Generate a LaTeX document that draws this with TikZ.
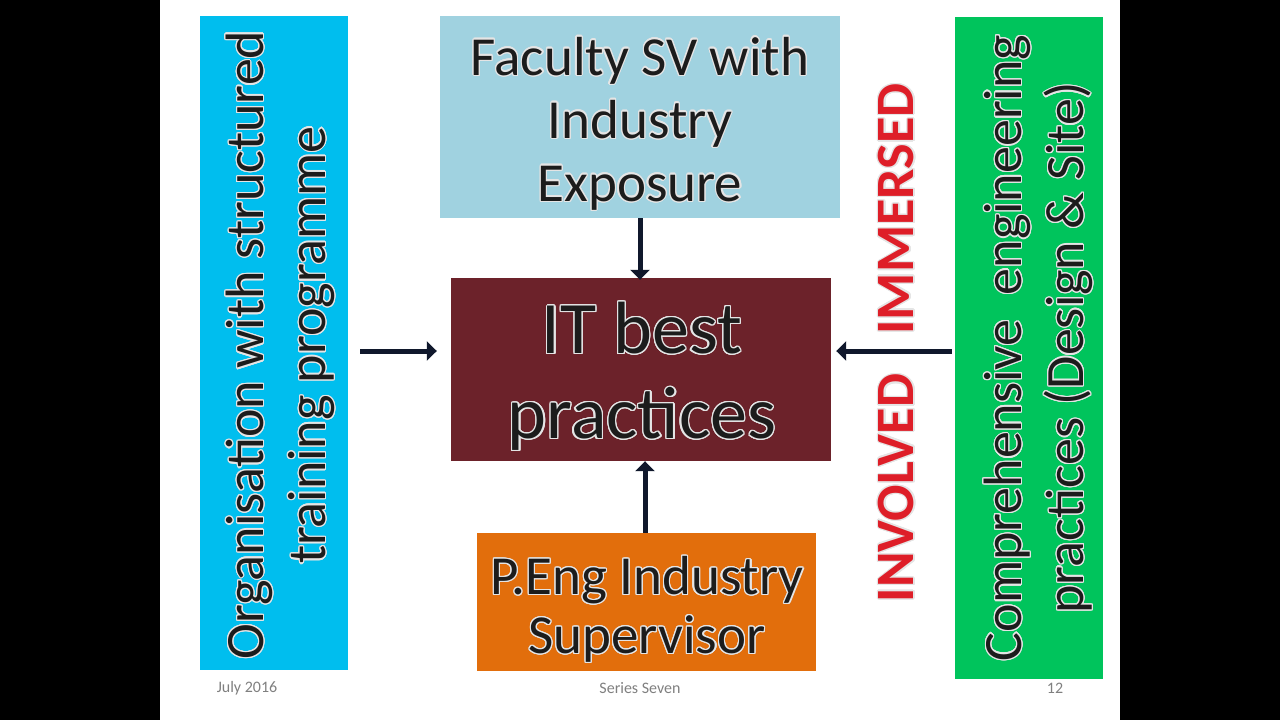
\documentclass[tikz,border=0pt]{standalone}
\usepackage{fontspec}
\setmainfont{Carlito}
\usepackage{xcolor}
\usepackage{tikz}
\usepackage{contour}
\usetikzlibrary{arrows.meta}
\usetikzlibrary{positioning, calc}

\definecolor{skycyan}{RGB}{0,190,238}
\definecolor{paleblue}{RGB}{160,210,224}
\definecolor{wine}{RGB}{108,34,42}
\definecolor{pumpkin}{RGB}{226,110,12}
\definecolor{leaf}{RGB}{0,196,92}
\definecolor{redword}{RGB}{222,30,40}
\definecolor{navyarrow}{RGB}{16,24,44}
\definecolor{textgray}{RGB}{28,28,28}

\contourlength{1.2pt}
\contournumber{20}
\newcommand{\olt}[1]{\contour{white!80!gray}{#1}}

\tikzset{
  slidebox/.style={rectangle, inner sep=0pt, text=textgray, align=center},
  bigarrow/.style={-{Triangle[length=10pt,width=19pt]}, line width=5pt, draw=navyarrow},
  footer/.style={text=gray, font=\fontsize{16}{18}\selectfont}
}

\begin{document}
\begin{tikzpicture}[x=1pt, y=-1pt]
                % slide
                \useasboundingbox (0,0) rectangle (1280,720);
                \fill[black] (0,0) rectangle (1280,720);
                \fill[white] (160,0) rectangle (1120,720);

                % side boxes
                \node[slidebox, fill=skycyan, minimum width=148pt, minimum height=654pt] (org) at (274,343) {};
                \node[rotate=90, align=center, text=textgray, font=\fontsize{54}{62}\selectfont] at (281,345)
                    {\olt{Organisation with structured}\\\olt{training programme}};
                \node[slidebox, fill=leaf, minimum width=148pt, minimum height=662pt] (comp) at (1029,348) {};
                \node[rotate=90, align=center, text=textgray, font=\fontsize{54}{62}\selectfont] at (1039,348)
                    {\olt{Comprehensive\ \ engineering}\\\olt{practices (Design \& Site)}};

                % middle column
                \node[slidebox, fill=paleblue, minimum width=400pt, minimum height=202pt] (fac) at (640,117) {};
                \node[align=center, text=textgray, font=\fontsize{55}{63}\selectfont] at (640,124)
                    {\olt{Faculty SV with}\\\olt{Industry}\\\olt{Exposure}};
                \node[slidebox, fill=wine, minimum width=380pt, minimum height=183pt] (core) at (641,369.5) {};
                \node[align=center, text=textgray, font=\fontsize{74}{85}\selectfont] at (642,377)
                    {\olt{IT best}\\\olt{practices}};
                \node[slidebox, fill=pumpkin, minimum width=339pt, minimum height=138pt] (peng) at (646.5,602) {};
                \node[align=center, text=textgray, font=\fontsize{55}{59}\selectfont] at (647,610)
                    {\olt{P.Eng Industry}\\\olt{Supervisor}};

                % red words
                \node[rotate=90, text=redword, font=\bfseries\fontsize{54}{60}\selectfont] (imm) at (897,209) {\olt{IMMERSED}};
                \node[rotate=90, text=redword, font=\bfseries\fontsize{54}{60}\selectfont] (inv) at (897,488) {\olt{INVOLVED}};

                % arrows
                \coordinate (row) at (0,351);
                \draw[bigarrow, shorten <=12pt, shorten >=14pt] (org.east |- row) -- (core.west |- row);
                \draw[bigarrow, shorten <=3pt, shorten >=5pt] (comp.west |- row) -- (core.east |- row);
                \draw[bigarrow, shorten >=-2pt] (fac.south -| 640,0) -- (core.north -| 640,0);
                \draw[bigarrow] (peng.north -| 645,0) -- (core.south -| 645,0);

                % footer
                \node[footer] (date) at (247,688) {July 2016};
                \node[footer] (series) at (640,688) {Series Seven};
                \node[footer] (page) at (1055,688) {12};
            \end{tikzpicture}
\end{document}
